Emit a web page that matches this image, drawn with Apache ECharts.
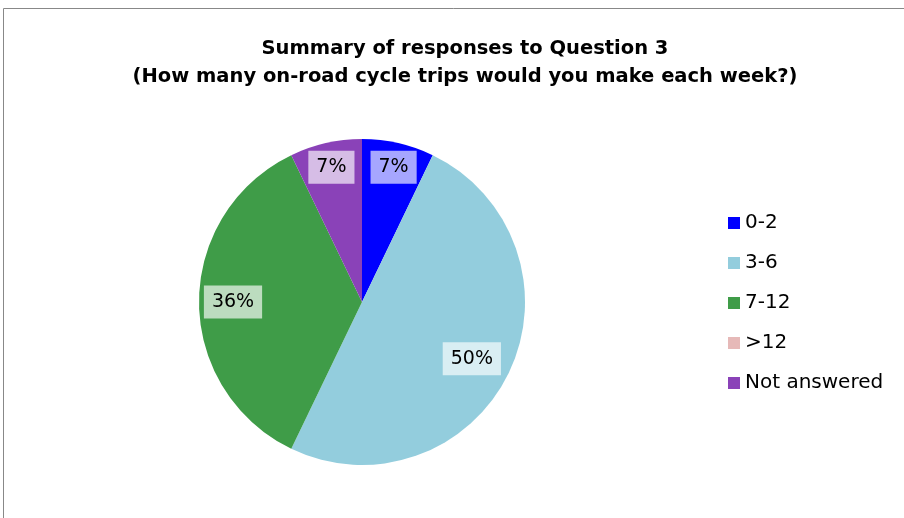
<!DOCTYPE html>
<html>
<head>
<meta charset="utf-8">
<script src="https://cdn.jsdelivr.net/npm/echarts@6/dist/echarts.min.js"></script>
<style>
html,body{margin:0;padding:0;background:#fff;}
#chart{width:904px;height:518px;}
</style>
</head>
<body>
<div id="chart"></div>
<script>
const titleLines = ['Summary of responses to Question 3', '(How many on-road cycle trips would you make each week?)'];
const categories = ['0-2', '3-6', '7-12', '>12', 'Not answered'];
const responses = [1, 7, 5, 0, 1];
const colors = ['#0000FF', '#93CDDD', '#3F9C48', '#E6B9B8', '#8A42B8'];
const labelNudges = [[2, -5], [-10, -1], [4, 0], [0, 0], [-1, -5]];

const FONT = 'DejaVu Sans';
const chart = echarts.init(document.getElementById('chart'), null, {renderer: 'canvas'});

const mainData = categories.map((c, i) => ({name: c, value: responses[i], itemStyle: {color: colors[i]}}));
const labelData = categories.map((c, i) => ({name: c, value: responses[i], label: {offset: labelNudges[i]}}));

chart.setOption({
  animation: false,
  backgroundColor: '#fff',
  title: {
    text: titleLines.join('\n'),
    left: 460,
    top: 30,
    textAlign: 'center',
    textStyle: {fontFamily: FONT, fontWeight: 'bold', fontSize: 19.5, lineHeight: 28, color: '#000'}
  },
  legend: {
    orient: 'vertical',
    left: 728,
    top: 213,
    padding: 0,
    itemWidth: 12,
    itemHeight: 12,
    itemGap: 20,
    icon: 'rect',
    selectedMode: false,
    data: categories,
    textStyle: {fontFamily: FONT, fontSize: 20, lineHeight: 20, color: '#000', padding: [0,0,0,0]}
  },
  graphic: [{
    type: 'polyline',
    silent: true,
    shape: {points: [[3.5, 518], [3.5, 8.5], [904, 8.5]]},
    style: {stroke: '#888', lineWidth: 1, fill: null}
  }],
  series: [{
    type: 'pie',
    center: [362, 302],
    radius: [0, 163],
    startAngle: 90,
    clockwise: true,
    label: {show: false},
    labelLine: {show: false},
    itemStyle: {borderWidth: 0},
    emphasis: {disabled: true},
    data: mainData
  }, {
    type: 'pie',
    center: [362, 302],
    radius: [97, 163],
    startAngle: 90,
    clockwise: true,
    silent: true,
    percentPrecision: 0,
    avoidLabelOverlap: false,
    itemStyle: {color: 'rgba(0,0,0,0)', borderWidth: 0},
    emphasis: {disabled: true},
    labelLine: {show: false},
    label: {
      show: true,
      position: 'inside',
      formatter: p => p.value ? p.percent + '%' : '',
      fontFamily: FONT,
      fontSize: 19,
      lineHeight: 19,
      color: '#000',
      backgroundColor: 'rgba(255,255,255,0.65)',
      padding: [7, 8, 7, 8]
    },
    data: labelData
  }]
});
</script>
</body>
</html>
